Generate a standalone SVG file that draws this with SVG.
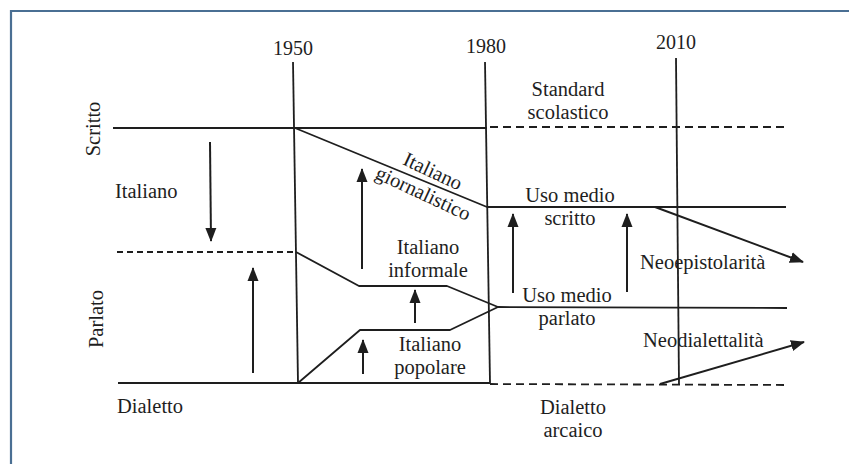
<svg xmlns="http://www.w3.org/2000/svg" width="849" height="464" viewBox="0 0 849 464">
  <defs>
    <style>
      .ln { stroke: #1e1e1e; stroke-width: 1.8; fill: none; stroke-linejoin: round; }
      .dash { stroke-dasharray: 8 5; }
      .arr { stroke: #1e1e1e; stroke-width: 2; fill: none; marker-end: url(#ah); }
      .t { font-family: "Liberation Serif", "DejaVu Serif", serif; font-size: 20.5px; fill: #1e1e1e; }
      .c { text-anchor: middle; }
      .yr { font-size: 20px; }
      .frame { stroke: #4a6f93; stroke-width: 2.2; fill: none; }
    </style>
    <marker id="ah" markerUnits="userSpaceOnUse" markerWidth="14" markerHeight="12" viewBox="0 0 14 12" refX="13" refY="6" orient="auto">
      <path d="M0,0.5 L14,6 L0,11.5 Z" fill="#1e1e1e"/>
    </marker>
  </defs>
  <rect width="849" height="464" fill="#ffffff"/>
  <g id="frame">
    <line class="frame" x1="10" y1="11" x2="849" y2="11"/>
    <line class="frame" x1="11" y1="10" x2="11" y2="464"/>
  </g>

  <g id="connectors">
    <!-- time axes -->
    <line class="ln" x1="293" y1="62" x2="298" y2="383"/>
    <line class="ln" x1="485" y1="62" x2="490" y2="383"/>
    <line class="ln" x1="676" y1="58" x2="679" y2="384"/>
    <!-- scritto level -->
    <line class="ln" x1="113" y1="128" x2="487" y2="128"/>
    <line class="ln dash" x1="490" y1="127" x2="787" y2="127"/>
    <!-- giornalistico / uso medio scritto -->
    <polyline class="ln" points="295,128 487,207 786,207"/>
    <!-- parlato level -->
    <line class="ln dash" x1="117" y1="252" x2="296" y2="252" style="stroke-dasharray:6 4"/>
    <!-- informale -->
    <polyline class="ln" points="296,252 359,286 447,286 498,307 787,308"/>
    <!-- popolare -->
    <polyline class="ln" points="298,383 360,330 450,330 498,307"/>
    <!-- dialetto level -->
    <line class="ln" x1="118" y1="383" x2="490" y2="383"/>
    <line class="ln dash" x1="490" y1="384" x2="787" y2="385"/>
    <!-- arrows -->
    <line class="arr" x1="210" y1="142" x2="211" y2="241"/>
    <line class="arr" x1="253" y1="373" x2="253" y2="268"/>
    <line class="arr" x1="362" y1="269" x2="362" y2="169"/>
    <line class="arr" x1="415" y1="323" x2="415" y2="290"/>
    <line class="arr" x1="363" y1="374" x2="363" y2="340"/>
    <line class="arr" x1="513" y1="293" x2="513" y2="214"/>
    <line class="arr" x1="627" y1="292" x2="627" y2="214"/>
    <line class="arr" x1="655" y1="207" x2="803" y2="262"/>
    <line class="arr" x1="660" y1="384" x2="804" y2="342"/>
  </g>

  <g id="years">
    <text class="t yr c" x="293" y="55">1950</text>
    <text class="t yr c" x="486" y="53">1980</text>
    <text class="t yr c" x="676" y="49">2010</text>
  </g>
  <g id="axis-labels">
    <text class="t c" transform="translate(100,129) rotate(-90)">Scritto</text>
    <text class="t c" transform="translate(103,319) rotate(-90)">Parlato</text>
  </g>
  <g id="node-italiano"><text class="t" x="115" y="198">Italiano</text></g>
  <g id="node-dialetto"><text class="t" x="117" y="413">Dialetto</text></g>
  <g id="node-standard">
    <text class="t c" x="568" y="96">Standard</text>
    <text class="t c" x="568" y="119">scolastico</text>
  </g>
  <g id="node-giornalistico">
    <text class="t c" transform="translate(433,171) rotate(25)" y="7">Italiano</text>
    <text class="t c" transform="translate(423,194) rotate(25)" y="6">giornalistico</text>
  </g>
  <g id="node-uso-scritto">
    <text class="t c" x="570" y="202">Uso medio</text>
    <text class="t c" x="570" y="225">scritto</text>
  </g>
  <g id="node-informale">
    <text class="t c" x="428" y="254">Italiano</text>
    <text class="t c" x="428" y="277">informale</text>
  </g>
  <g id="node-uso-parlato">
    <text class="t c" x="567" y="302">Uso medio</text>
    <text class="t c" x="567" y="325">parlato</text>
  </g>
  <g id="node-popolare">
    <text class="t c" x="430" y="351">Italiano</text>
    <text class="t c" x="430" y="374">popolare</text>
  </g>
  <g id="node-arcaico">
    <text class="t c" x="573" y="414">Dialetto</text>
    <text class="t c" x="573" y="437">arcaico</text>
  </g>
  <g id="node-neoepistolarita"><text class="t" x="640" y="269">Neoepistolarità</text></g>
  <g id="node-neodialettalita"><text class="t" x="643" y="347">Neodialettalità</text></g>
</svg>
